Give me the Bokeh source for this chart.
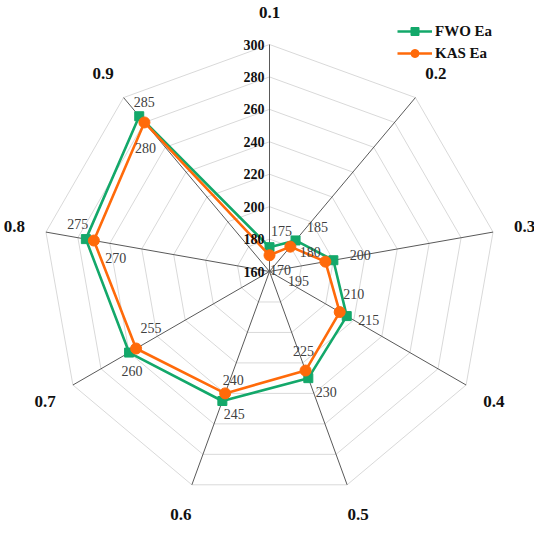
import math
from bokeh.plotting import figure
from bokeh.models import Range1d, ColumnDataSource, Legend, LegendItem
from bokeh.core.properties import value
from bokeh.embed import file_html
from bokeh.resources import INLINE

categories = ["0.1", "0.2", "0.3", "0.4", "0.5", "0.6", "0.7", "0.8", "0.9"]
fwo_ea = [175, 185, 200, 215, 230, 245, 260, 275, 285]
kas_ea = [170, 180, 195, 210, 225, 240, 255, 270, 280]
ticks = [160, 180, 200, 220, 240, 260, 280, 300]

# label offsets in screen pixels (dx, dy; +dy = down)
fwo_dx = [12, 22, 27, 22, 18, 12, 3, -8, 5]
fwo_dy = [-16, -13, -5, 4, 14, 13, 18, -15, -14]
kas_dx = [11, 20, -27, 14, -2, 8, 15, 22, 1]
kas_dy = [15, 5, 19, -18, -20, -13, -21, 17, 26]

R0, R1 = ticks[0], ticks[-1]
W, H = 534, 523
CX, CY = 269, 271
RPX = 227.0
k = RPX / (R1 - R0)

n = len(categories)
ang = [2 * math.pi * i / n for i in range(n)]

def pol(vals):
    xs = [(v - R0) * math.sin(a) for v, a in zip(vals, ang)]
    ys = [(v - R0) * math.cos(a) for v, a in zip(vals, ang)]
    return xs, ys

p = figure(width=W, height=H, output_backend="svg", toolbar_location=None,
           x_range=Range1d(-CX / k, (W - CX) / k), y_range=Range1d(-(H - CY) / k, CY / k),
           min_border=0)
p.axis.visible = False
p.grid.visible = False
p.outline_line_color = None
p.background_fill_color = "white"

# grid rings
ring_xs, ring_ys = [], []
for t in ticks[1:]:
    xs, ys = pol([t] * n)
    ring_xs.append(xs + [xs[0]])
    ring_ys.append(ys + [ys[0]])
p.multi_line(ring_xs, ring_ys, line_color="#d9d9d9", line_width=1)

# spokes
ex, ey = pol([R1] * n)
p.segment(x0=[0] * n, y0=[0] * n, x1=ex, y1=ey, line_color="#595959", line_width=1)

green = "#13A86A"
orange = "#FF6A0A"

fx, fy = pol(fwo_ea)
kx, ky = pol(kas_ea)

l1 = p.line(fx + [fx[0]], fy + [fy[0]], line_color=green, line_width=2.6)
s1 = p.scatter(fx, fy, marker="square", size=9, fill_color=green, line_color=green)
l2 = p.line(kx + [kx[0]], ky + [ky[0]], line_color=orange, line_width=2.6)
s2 = p.scatter(kx, ky, marker="circle", size=11, fill_color=orange, line_color=orange)

serif = value("Liberation Serif")

# data labels
src_f = ColumnDataSource(dict(x=fx, y=fy, t=[str(v) for v in fwo_ea], dx=fwo_dx, dy=fwo_dy))
p.text(x="x", y="y", text="t", x_offset="dx", y_offset="dy", source=src_f,
       text_font=serif, text_font_size="14px", text_color="#404040",
       text_align="center", text_baseline="middle")
src_k = ColumnDataSource(dict(x=kx, y=ky, t=[str(v) for v in kas_ea], dx=kas_dx, dy=kas_dy))
p.text(x="x", y="y", text="t", x_offset="dx", y_offset="dy", source=src_k,
       text_font=serif, text_font_size="14px", text_color="#404040",
       text_align="center", text_baseline="middle")

# tick labels
p.text(x=[0] * len(ticks), y=[t - R0 for t in ticks], text=[str(t) for t in ticks],
       x_offset=-5, text_font=serif, text_font_size="14px", text_font_style="bold",
       text_color="#111111", text_align="right", text_baseline="middle")

# category labels
LR = 259.0 / k
cx = [LR * math.sin(a) for a in ang]
cy = [LR * math.cos(a) for a in ang]
p.text(x=cx, y=cy, text=categories, text_font=serif, text_font_size="17px",
       text_font_style="bold", text_color="#111111", text_align="center",
       text_baseline="middle")

legend = Legend(items=[LegendItem(label="FWO Ea", renderers=[l1, s1]),
                       LegendItem(label="KAS Ea", renderers=[l2, s2])],
                location=(397, H - 63), glyph_width=35, glyph_height=20, label_height=20,
                spacing=2, padding=0, margin=0, label_standoff=3,
                border_line_color=None, background_fill_alpha=0,
                label_text_font="Liberation Serif", label_text_font_style="bold",
                label_text_font_size="15px", label_text_color="#111111")
p.add_layout(legend)

open("out.html", "w").write(file_html(p, INLINE))
